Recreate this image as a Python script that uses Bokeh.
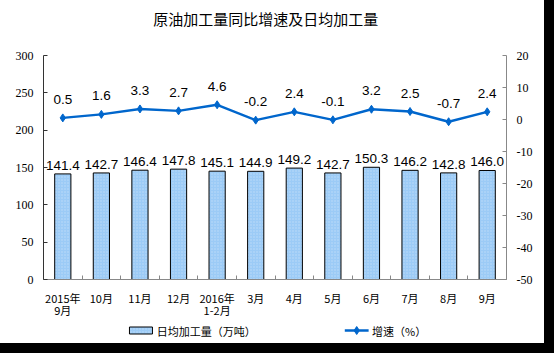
from bokeh.plotting import figure
from bokeh.layouts import column
from bokeh.models import (ColumnDataSource, Range1d, LinearAxis, FixedTicker, LabelSet)
from bokeh.core.properties import value
from bokeh.embed import file_html
from bokeh.resources import INLINE

categories = ["2015年\n9月", "10月", "11月", "12月", "2016年\n1-2月", "3月",
              "4月", "5月", "6月", "7月", "8月", "9月"]
daily_output = [141.4, 142.7, 146.4, 147.8, 145.1, 144.9, 149.2, 142.7, 150.3, 146.2, 142.8, 146.0]
growth_rate = [0.5, 1.6, 3.3, 2.7, 4.6, -0.2, 2.4, -0.1, 3.2, 2.5, -0.7, 2.4]
left_ticks = [0, 50, 100, 150, 200, 250, 300]
right_ticks = [-50, -40, -30, -20, -10, 0, 10, 20]
title_text = "原油加工量同比增速及日均加工量"
bar_name = "日均加工量（万吨）"
line_name = "增速（%）"

W = 544
BAR_FILL = "#9CCBF6"
LINE_COLOR = "#0066CC"
CJK = "Noto Sans CJK SC"
TITLE_H = 34
MAIN_H = 287
LEG_H = 343 - TITLE_H - MAIN_H


def blank_fig(h):
    f = figure(width=W, height=h, output_backend="svg", toolbar_location=None,
               x_range=Range1d(0, W), y_range=Range1d(0, h), min_border=0)
    f.axis.visible = False
    f.grid.visible = False
    f.outline_line_color = None
    f.background_fill_color = "#FFFFFF"
    f.border_fill_color = "#FFFFFF"
    return f


# ---------- title strip ----------
tfig = blank_fig(TITLE_H)
tfig.text(x=[261], y=[TITLE_H - 18], text=[title_text], text_align="center",
          text_baseline="middle", text_font=value(CJK), text_font_size="15px",
          text_color="#000000")

# ---------- main chart ----------
n = len(categories)
xs = list(range(n))
src = ColumnDataSource(dict(
    x=xs, bar=daily_output, rate=growth_rate,
    bar_lbl=[f"{v:.1f}" for v in daily_output],
    rate_lbl=[f"{v:.1f}" for v in growth_rate],
))

p = figure(width=W, height=MAIN_H, output_backend="svg", toolbar_location=None,
           x_range=Range1d(-0.5, n - 0.5), y_range=Range1d(0, 300),
           min_border_left=43, min_border_right=38, min_border_top=21,
           min_border_bottom=40)
p.outline_line_color = None
p.xgrid.visible = False
p.ygrid.visible = False
p.background_fill_color = "#FFFFFF"
p.border_fill_color = "#FFFFFF"
p.extra_y_ranges = {"rate": Range1d(-50, 20)}

xa = p.xaxis[0]
xa.ticker = FixedTicker(ticks=xs, minor_ticks=[i - 0.5 for i in range(n + 1)])
xa.major_label_overrides = {i: c for i, c in enumerate(categories)}
xa.major_tick_line_color = None
xa.minor_tick_in = 4
xa.minor_tick_out = 0
xa.minor_tick_line_color = "#888888"
xa.axis_line_color = "#888888"
xa.major_label_text_font = CJK
xa.major_label_text_font_size = "11px"
xa.major_label_text_color = "#000000"
xa.major_label_text_line_height = 0.8
xa.major_label_standoff = 4

ya = p.yaxis[0]
ya.ticker = FixedTicker(ticks=left_ticks)
ya.major_tick_in = 4
ya.major_tick_out = 0
ya.minor_tick_line_color = None
ya.axis_line_color = "#333333"
ya.major_tick_line_color = "#333333"
ya.major_label_text_font = "Liberation Serif"
ya.major_label_text_font_size = "12px"
ya.major_label_text_color = "#000000"
ya.major_label_standoff = 10

ra = LinearAxis(y_range_name="rate", ticker=FixedTicker(ticks=right_ticks))
ra.major_label_overrides = {t: str(t) for t in right_ticks}
ra.major_tick_in = 4
ra.major_tick_out = 0
ra.minor_tick_line_color = None
ra.axis_line_color = "#888888"
ra.major_tick_line_color = "#888888"
ra.major_label_text_font = "Liberation Serif"
ra.major_label_text_font_size = "12px"
ra.major_label_text_color = "#000000"
ra.major_label_standoff = 10
p.add_layout(ra, "right")

p.vbar(x="x", top="bar", width=0.42, source=src, fill_color=BAR_FILL,
       line_color="#000000", line_width=1,
       hatch_pattern="dot", hatch_color="#FFFFFF", hatch_alpha=0.35, hatch_scale=3)
p.add_layout(LabelSet(x="x", y="bar", text="bar_lbl", source=src,
                      text_align="center", text_baseline="bottom", y_offset=4,
                      text_font=value("Liberation Sans"), text_font_size="13.5px",
                      text_color="#000000"))

p.line(x="x", y="rate", source=src, y_range_name="rate",
       line_color=LINE_COLOR, line_width=2.4)
p.scatter(x="x", y="rate", source=src, y_range_name="rate", marker="diamond",
          size=8, fill_color=LINE_COLOR, line_color=LINE_COLOR)
p.add_layout(LabelSet(x="x", y="rate", text="rate_lbl", source=src,
                      y_range_name="rate",
                      text_align="center", text_baseline="bottom", y_offset=14,
                      text_font=value("Liberation Sans"), text_font_size="13.5px",
                      text_color="#000000"))

# ---------- legend strip ----------
lfig = blank_fig(LEG_H)
ly = LEG_H - (330 - (TITLE_H + MAIN_H))
lfig.quad(left=[101], right=[128], bottom=[ly - 3.5], top=[ly + 3.5],
          fill_color=BAR_FILL, line_color="#000000", line_width=1,
          hatch_pattern="dot", hatch_color="#FFFFFF", hatch_alpha=0.35, hatch_scale=3)
lfig.text(x=[133], y=[ly], text=[bar_name], text_align="left", text_baseline="middle",
          text_font=value(CJK), text_font_size="11px", text_color="#000000")
lfig.line(x=[354, 382], y=[ly, ly], line_color=LINE_COLOR, line_width=2.4)
lfig.scatter(x=[368], y=[ly], marker="diamond", size=8,
             fill_color=LINE_COLOR, line_color=LINE_COLOR)
lfig.text(x=[386], y=[ly], text=[line_name], text_align="left", text_baseline="middle",
          text_font=value(CJK), text_font_size="11px", text_color="#000000")

layout = column(tfig, p, lfig, spacing=0, styles={"background-color": "#FFFFFF"})

html = file_html(layout, INLINE)
html = html.replace("</head>", "<style>html,body{background:#000000;margin:0;}</style></head>", 1)
open("out.html", "w").write(html)
